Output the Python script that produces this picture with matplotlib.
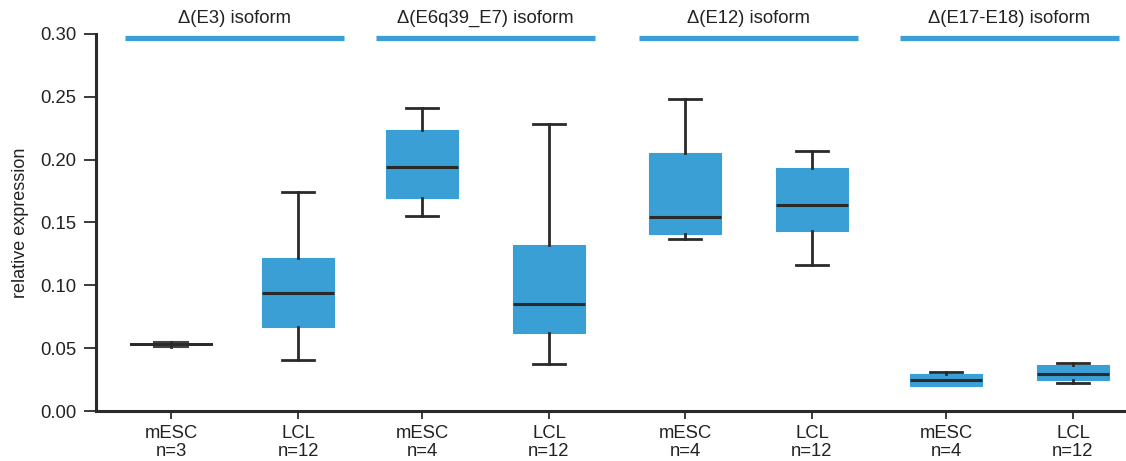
import matplotlib
matplotlib.use("Agg")
import matplotlib.pyplot as plt

plt.rcParams['font.family'] = ['Liberation Sans', 'DejaVu Sans']

# ---- data ----
groups = ["\u0394(E3) isoform", "\u0394(E6q39_E7) isoform", "\u0394(E12) isoform", "\u0394(E17-E18) isoform"]
tick_labels = ["mESC\nn=3", "LCL\nn=12", "mESC\nn=4", "LCL\nn=12",
               "mESC\nn=4", "LCL\nn=12", "mESC\nn=4", "LCL\nn=12"]
whislo = [0.0530, 0.0406, 0.155, 0.0374, 0.137, 0.116, 0.0201, 0.0225]
q1     = [0.0512, 0.0671, 0.1695, 0.062, 0.141, 0.1432, 0.0201, 0.0244]
med    = [0.0530, 0.0939, 0.194, 0.085, 0.154, 0.164, 0.0249, 0.0297]
q3     = [0.0548, 0.1217, 0.2236, 0.132, 0.205, 0.1934, 0.0292, 0.0363]
whishi = [0.0530, 0.174, 0.241, 0.2284, 0.248, 0.207, 0.0308, 0.0385]

# ---- layout ----
positions = [1, 2, 2.976, 3.976, 5.047, 6.047, 7.102, 8.102]
widths = [0.27, 0.56, 0.56, 0.56, 0.56, 0.56, 0.56, 0.56]
capwidths = [0.63, 0.25, 0.25, 0.25, 0.25, 0.25, 0.25, 0.25]
blue = '#3a9fd5'
dark = '#2a2a2a'

fig = plt.figure(figsize=(11.26, 4.61), dpi=100)
ax = fig.add_axes([96/1126, 1-411/461, 1-96/1126, (411-34)/461])

stats = []
for i in range(len(med)):
    stats.append(dict(whislo=whislo[i], q1=q1[i], med=med[i], q3=q3[i],
                      whishi=whishi[i], fliers=[]))

bp = ax.bxp(stats, positions=positions, widths=widths, capwidths=capwidths,
            patch_artist=True, showfliers=False,
            boxprops=dict(facecolor=blue, edgecolor=blue, linewidth=0.8),
            medianprops=dict(color=dark, linewidth=2.2),
            whiskerprops=dict(color=dark, linewidth=2.0),
            capprops=dict(color=dark, linewidth=2.0))
# tiny first box appears grey with dark outline
bp['boxes'][0].set_facecolor('#8a8a8a')
bp['boxes'][0].set_edgecolor('#444444')
bp['boxes'][0].set_linewidth(1.5)
# lower whisker of 7th box coincides with box bottom: no visible cap
bp['caps'][2*6].set_visible(False)

ax.set_xlim(1 + (96-171)/127, 1 + (1126-171)/127)
ax.set_ylim(0, 0.30)
ax.set_yticks([0.00, 0.05, 0.10, 0.15, 0.20, 0.25, 0.30])
ax.set_yticklabels(["0.00", "0.05", "0.10", "0.15", "0.20", "0.25", "0.30"])
ax.set_xticks(positions)
ax.set_xticklabels(tick_labels, linespacing=1.05)
ax.set_ylabel("relative expression", fontsize=13, color='#222222', labelpad=8)

for s in ['top', 'right']:
    ax.spines[s].set_visible(False)
for s in ['left', 'bottom']:
    ax.spines[s].set_linewidth(2.2)
    ax.spines[s].set_color(dark)
ax.tick_params(axis='y', length=9, width=1.3, color=dark, labelsize=13.3, labelcolor='#222222', pad=5)
ax.tick_params(axis='x', length=6, width=1.3, color=dark, labelsize=13.3, labelcolor='#222222', pad=4)

# group headers
for g, name in enumerate(groups):
    c = (positions[2*g] + positions[2*g+1]) / 2
    ax.plot([c - 0.86, c + 0.86], [0.2968, 0.2968], color=blue, linewidth=3.8,
            solid_capstyle='butt', clip_on=False)
    ax.text(c, 0.3127, name, ha='center', va='center', fontsize=13.3,
            color='#222222', clip_on=False)

fig.savefig("out.png", dpi=100)
